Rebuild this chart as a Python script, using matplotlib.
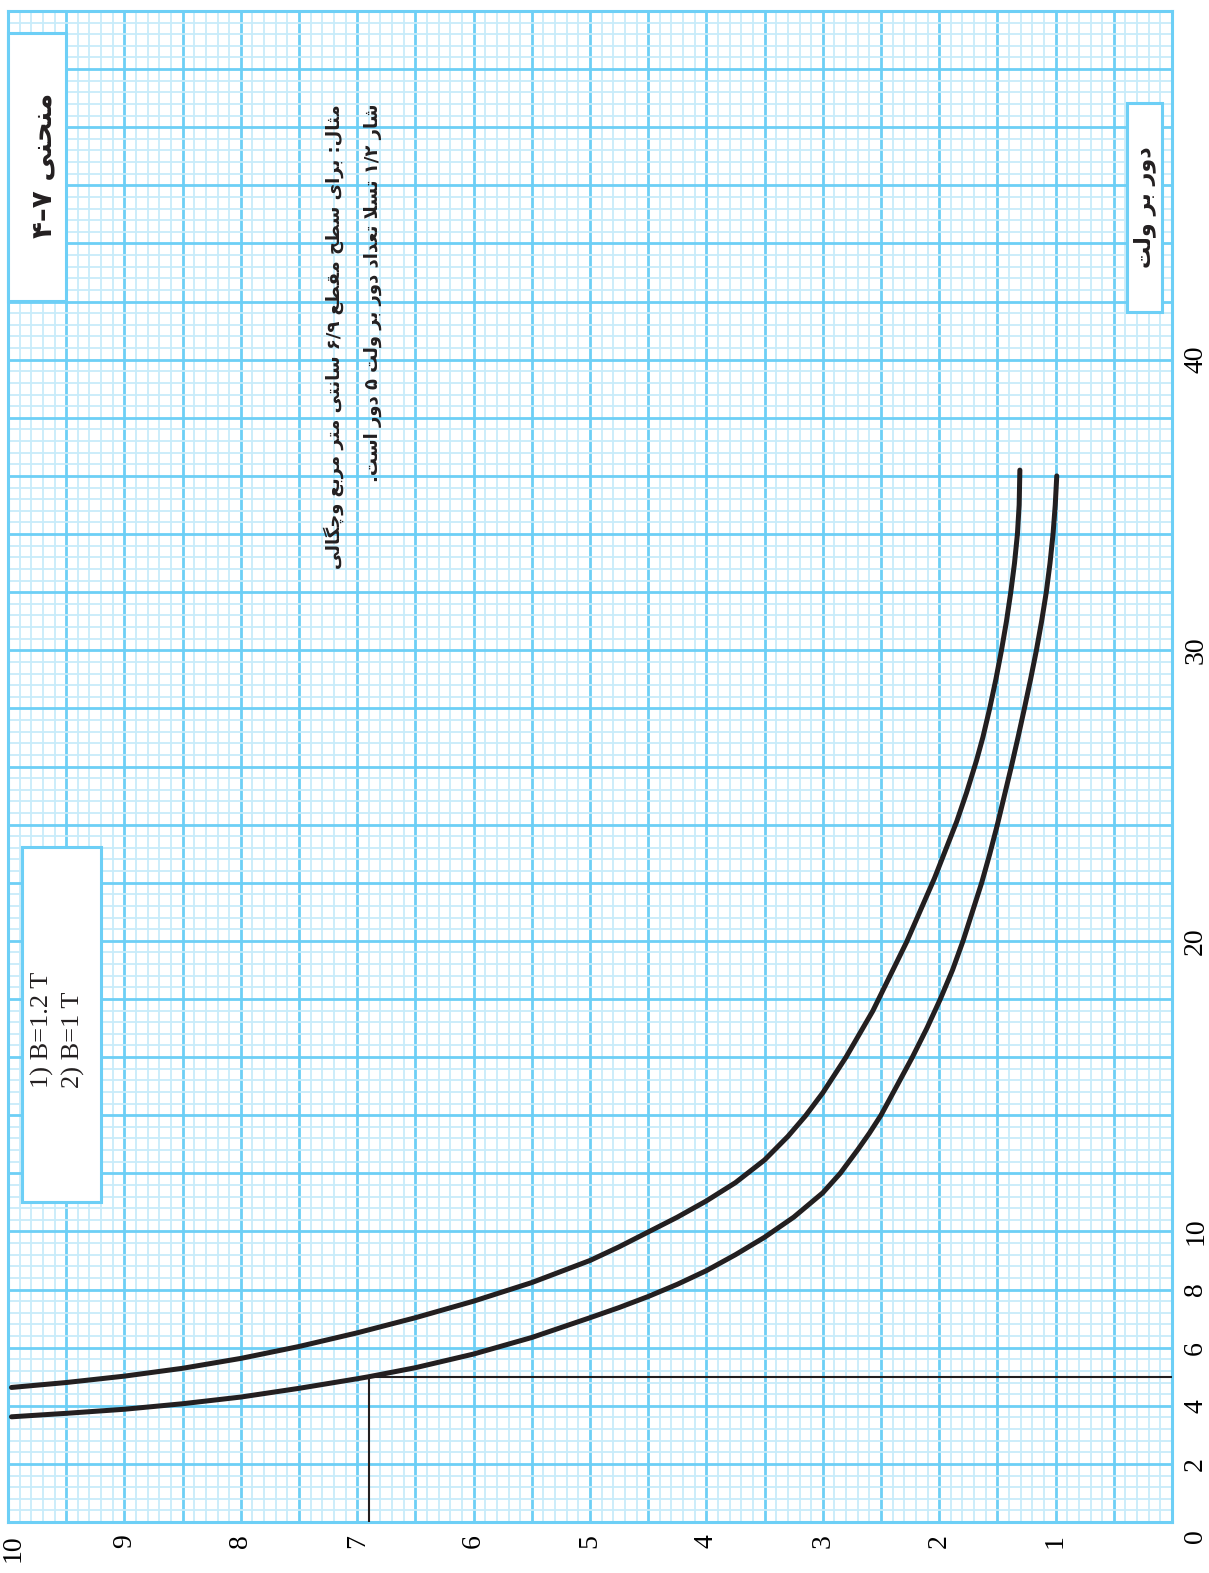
"""
Turns-per-volt vs core cross-section chart (curve 4-7), drawn on graph paper
and rotated 90 degrees like the printed page.
"""
import re
import matplotlib
matplotlib.use('Agg')
import matplotlib.pyplot as plt
from matplotlib.patches import Rectangle
from matplotlib.ticker import FixedLocator, MultipleLocator
from matplotlib.transforms import ScaledTranslation

# ---- data --------------------------------------------------------------
# cross-section area (cm^2) and turns per volt, curve 1: B = 1.2 T
area_b12 = [9.97, 9.5, 9.0, 8.5, 8.0, 7.5, 7.0, 6.9, 6.5, 6.0, 5.5, 5.0,
            4.75, 4.5, 4.25, 4.0, 3.75, 3.5, 3.25, 3.0, 2.85, 2.7, 2.6, 2.5,
            2.365, 2.23, 2.105, 1.99, 1.885, 1.795, 1.715, 1.635, 1.565, 1.5,
            1.44, 1.38, 1.323, 1.268, 1.215, 1.165, 1.12, 1.08, 1.048, 1.022,
            1.003, 0.99]
turns_b12 = [3.62, 3.74, 3.88, 4.07, 4.30, 4.60, 4.93, 5.0, 5.31, 5.78, 6.35,
             7.03, 7.38, 7.76, 8.18, 8.65, 9.2, 9.8, 10.49, 11.33, 12.0, 12.81,
             13.38, 14.0, 15.0, 16.0, 17.0, 18.0, 19.0, 20.0, 21.0, 22.0, 23.0,
             24.0, 25.0, 26.0, 27.0, 28.0, 29.0, 30.0, 31.0, 32.0, 33.0, 34.0,
             35.0, 36.0]

# curve 2: B = 1 T
area_b10 = [9.97, 9.5, 9.0, 8.5, 8.0, 7.5, 7.0, 6.5, 6.0, 5.5, 5.0, 4.75,
            4.5, 4.25, 4.0, 3.75, 3.5, 3.3, 3.15, 3.0, 2.8, 2.57, 2.28, 2.04,
            1.85, 1.765, 1.68, 1.625, 1.566, 1.513, 1.465, 1.422, 1.385,
            1.353, 1.328, 1.313, 1.307]
turns_b10 = [4.63, 4.80, 5.02, 5.29, 5.63, 6.04, 6.51, 7.03, 7.60, 8.24, 9.0,
             9.47, 9.98, 10.49, 11.05, 11.68, 12.46, 13.27, 13.97, 14.77, 16.0,
             17.59, 19.96, 22.16, 24.1, 25.1, 26.2, 27.0, 28.0, 29.0, 30.0,
             31.0, 32.0, 33.0, 34.0, 35.0, 36.2]

# worked example: 6.9 cm^2 at 1.2 T -> 5 turns per volt
example_area = 6.9
example_turns = 5.0

area_labels = [1, 2, 3, 4, 5, 6, 7, 8, 9, 10]
turns_labels = [0, 2, 4, 6, 8, 10, 20, 30, 40]

legend_lines = ['1) B=1.2 T', '2) B=1 T']
title_text = 'منحنی ۴–۷'
unit_text = 'دور بر ولت'
example_lines = ['مثال: برای سطح مقطع ۶/۹ سانتی متر مربع وچگالی',
                 'شار ۱/۲ تسلا تعداد دور بر ولت ۵ دور است.']

# ---- minimal persian shaping (matplotlib has no complex text layout) ----
FORMS = {  # isolated, final, initial, medial
    'ا': (0xFE8D, 0xFE8E, None, None),
    'د': (0xFEA9, 0xFEAA, None, None),
    'ر': (0xFEAD, 0xFEAE, None, None),
    'و': (0xFEED, 0xFEEE, None, None),
    'ب': (0xFE8F, 0xFE90, 0xFE91, 0xFE92),
    'ت': (0xFE95, 0xFE96, 0xFE97, 0xFE98),
    'ث': (0xFE99, 0xFE9A, 0xFE9B, 0xFE9C),
    'ح': (0xFEA1, 0xFEA2, 0xFEA3, 0xFEA4),
    'س': (0xFEB1, 0xFEB2, 0xFEB3, 0xFEB4),
    'ش': (0xFEB5, 0xFEB6, 0xFEB7, 0xFEB8),
    'ط': (0xFEC1, 0xFEC2, 0xFEC3, 0xFEC4),
    'ع': (0xFEC9, 0xFECA, 0xFECB, 0xFECC),
    'ق': (0xFED5, 0xFED6, 0xFED7, 0xFED8),
    'ل': (0xFEDD, 0xFEDE, 0xFEDF, 0xFEE0),
    'م': (0xFEE1, 0xFEE2, 0xFEE3, 0xFEE4),
    'ن': (0xFEE5, 0xFEE6, 0xFEE7, 0xFEE8),
    'ی': (0xFBFC, 0xFBFD, 0xFBFE, 0xFBFF),
    'چ': (0xFB7A, 0xFB7B, 0xFB7C, 0xFB7D),
    'گ': (0xFB92, 0xFB93, 0xFB94, 0xFB95),
}


def dual(c):
    return c in FORMS and FORMS[c][2] is not None


def shape(text):
    out = []
    i = 0
    while i < len(text):
        c = text[i]
        if c not in FORMS:
            out.append(c)
            i += 1
            continue
        link_prev = i > 0 and dual(text[i - 1])
        if c == 'ل' and i + 1 < len(text) and text[i + 1] == 'ا':
            out.append(chr(0xFEFC if link_prev else 0xFEFB))
            i += 2
            continue
        link_next = dual(c) and i + 1 < len(text) and text[i + 1] in FORMS
        iso, fin, ini, med = FORMS[c]
        if link_prev and link_next:
            g = med
        elif link_prev:
            g = fin
        elif link_next:
            g = ini
        else:
            g = iso
        out.append(chr(g))
        i += 1
    return ''.join(out)


def fa(text):
    vis = shape(text)[::-1]
    # numbers stay left-to-right
    return re.sub(r'[۰-۹]+(?:[/–][۰-۹]+)*', lambda m: m.group(0)[::-1], vis)


# ---- figure ----------------------------------------------------------------
W, H = 1209, 1573
major_c = '#6dcff6'
minor_c = '#c8ecfa'
ink = '#231f20'
fa_font = ['DejaVu Sans']
num_font = 'Liberation Serif'


def fxy(x, y):
    return x / W, 1 - y / H


fig = plt.figure(figsize=(W / 100, H / 100), dpi=100)
ax = fig.add_axes([8 / W, 1 - 1522 / H, 1164 / W, 1511 / H])

ax.set_xlim(10, 0)
ax.set_ylim(0, 52)

xt = [i * 0.5 for i in range(21)]
ax.xaxis.set_major_locator(FixedLocator(xt))
ax.set_xticklabels([str(int(v)) if v in area_labels else '' for v in xt])
ax.xaxis.set_minor_locator(MultipleLocator(0.1))

yt = list(range(0, 53, 2))
ax.yaxis.set_major_locator(FixedLocator(yt))
ax.yaxis.tick_right()
ax.set_yticklabels([str(v) if v in turns_labels else '' for v in yt])
ax.yaxis.set_minor_locator(MultipleLocator(0.4))

ax.grid(which='minor', color=minor_c, lw=1.3)
ax.grid(which='major', color=major_c, lw=2.0)
ax.set_axisbelow(True)
for s in ax.spines.values():
    s.set_color(major_c)
    s.set_linewidth(2.2)

ax.tick_params(which='both', length=0)
ax.tick_params(axis='x', labelrotation=90, pad=9, labelsize=20)
ax.tick_params(axis='y', labelrotation=90, pad=8, labelsize=20)
for lbl in ax.get_xticklabels() + ax.get_yticklabels():
    lbl.set_fontfamily(num_font)
for lbl in ax.get_yticklabels():
    lbl.set_va('center')

# keep the corner labels inside the page
ax.get_xticklabels()[-1].set_transform(
    ax.get_xticklabels()[-1].get_transform() + ScaledTranslation(4 / 72, 0, fig.dpi_scale_trans))
ax.get_yticklabels()[0].set_transform(
    ax.get_yticklabels()[0].get_transform() + ScaledTranslation(0, -10 / 72, fig.dpi_scale_trans))

# curves
for a, t in [(area_b12, turns_b12), (area_b10, turns_b10)]:
    ax.plot(a, t, color=ink, lw=3.6, solid_capstyle='round',
            solid_joinstyle='round', zorder=4)

# example guide lines
ax.plot([example_area, example_area], [0, example_turns], color=ink, lw=1.5, zorder=3)
ax.plot([example_area, 0], [example_turns, example_turns], color=ink, lw=1.5, zorder=3)


def box(x0, y0, x1, y1):
    fig.add_artist(Rectangle(fxy(x0, y1), (x1 - x0) / W, (y1 - y0) / H,
                             transform=fig.transFigure, facecolor='white',
                             edgecolor=major_c, lw=2.2, zorder=5))


# title box
box(8, 33, 66, 301)
fig.text(*fxy(43, 165), fa(title_text), rotation=90, ha='center', va='center',
         fontsize=20, fontweight='bold', family=fa_font, color=ink, zorder=6)

# unit box
box(1127, 103, 1162, 312)
fig.text(*fxy(1145, 207), fa(unit_text), rotation=90, ha='center', va='center',
         fontsize=16, fontweight='bold', family=fa_font, color=ink, zorder=6)

# legend box
box(22, 847, 101, 1202)
for i, line in enumerate(legend_lines):
    fig.text(*fxy(42 + i * 31, 1088), line, rotation=90, ha='center', va='bottom',
             fontsize=19, family=num_font, color=ink, zorder=6)

# example note
for i, line in enumerate(example_lines):
    fig.text(*fxy(334 + i * 39, 104), fa(line), rotation=90, ha='center', va='top',
             fontsize=13, fontweight='bold', family=fa_font, color=ink, zorder=6)

fig.savefig('out.png', dpi=100, facecolor='white')
